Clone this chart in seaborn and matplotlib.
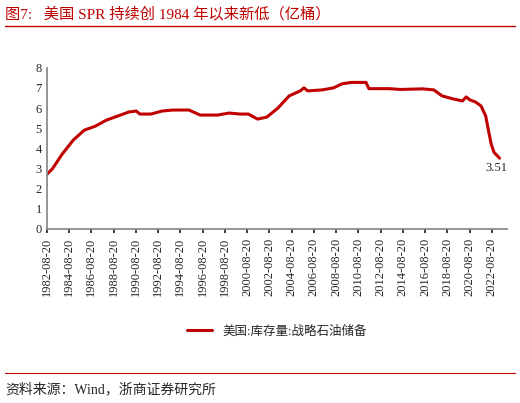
import matplotlib
matplotlib.use("Agg")
import matplotlib.pyplot as plt
import seaborn as sns
import pandas as pd

sns.set_theme(style="white")
plt.rcParams['font.family'] = ['Liberation Serif', 'Noto Sans CJK SC']

dates = ["1982-08-20","1983-03-01","1984-01-01","1985-01-01","1986-01-01","1987-01-01","1988-01-01",
         "1989-01-01","1990-01-01","1990-09-01","1991-01-01","1992-01-01","1993-01-01","1994-01-01",
         "1995-06-01","1996-06-01","1998-01-01","1999-01-01","2000-01-01","2000-10-01","2001-08-01",
         "2002-06-01","2003-06-01","2004-06-01","2005-06-01","2005-10-01","2006-02-01","2007-06-01",
         "2008-06-01","2009-03-01","2010-01-01","2011-05-01","2011-08-01","2013-06-01","2014-06-01",
         "2016-06-01","2017-06-01","2018-03-01","2019-03-01","2020-01-01","2020-05-01","2020-09-01",
         "2021-03-01","2021-09-01","2022-02-01","2022-05-01","2022-08-01","2022-11-01","2023-05-01"]
values = [2.7,3.0,3.7,4.4,4.9,5.1,5.4,5.6,5.8,5.85,5.7,5.7,5.85,5.9,5.9,5.65,5.65,5.75,5.7,5.7,5.45,
          5.55,6.0,6.6,6.85,7.0,6.85,6.9,7.0,7.2,7.27,7.27,6.96,6.96,6.92,6.95,6.9,6.6,6.45,6.35,6.55,
          6.4,6.3,6.1,5.6,4.9,4.2,3.8,3.51]
tick_labels = [f"{y}-08-20" for y in range(1982, 2023, 2)]
series_name = "美国:库存量:战略石油储备"
color = "#C00000"

df = pd.DataFrame({"date": pd.to_datetime(dates), "v": values})
fig = plt.figure(figsize=(5.2, 4.03), dpi=100)
ax = fig.add_axes([0.09, 0.432, 0.885, 0.4])
sns.lineplot(data=df, x="date", y="v", ax=ax, color=color, lw=2.2, label=series_name)
ax.set_ylim(0, 8)
ax.set_yticks(range(0, 9))
ticks = pd.to_datetime(tick_labels)
ax.set_xticks(ticks)
ax.set_xticklabels(tick_labels, rotation=90, fontsize=9)
ax.set_xlim(pd.Timestamp("1982-08-20"), pd.Timestamp("2024-01-01"))
ax.tick_params(axis='y', labelsize=9, length=0)
ax.tick_params(axis='x', length=3, direction='out', bottom=True)
ax.set_xlabel(""); ax.set_ylabel("")
for s in ["top", "right"]:
    ax.spines[s].set_visible(False)
ax.spines["left"].set_color("#888"); ax.spines["bottom"].set_color("#888")
ax.annotate(f"{values[-1]:.2f}", (df["date"].iloc[-1], values[-1]), xytext=(-10, -9),
            textcoords="offset points", fontsize=9)
ax.legend(loc="upper center", bbox_to_anchor=(0.5, -0.53), frameon=False,
          prop={'family': ['Liberation Serif', 'Noto Sans CJK SC'], 'size': 9})
fig.text(0.01, 0.955, "图7:   美国 SPR 持续创 1984 年以来新低（亿桶）", color=color, fontsize=11)
fig.add_artist(plt.Line2D([0.01, 0.99], [0.935, 0.935], color=color, lw=1))
fig.add_artist(plt.Line2D([0.01, 0.99], [0.075, 0.075], color=color, lw=0.8))
fig.text(0.01, 0.025, "资料来源：Wind，浙商证券研究所", fontsize=10)
fig.savefig("out.png", dpi=100)
